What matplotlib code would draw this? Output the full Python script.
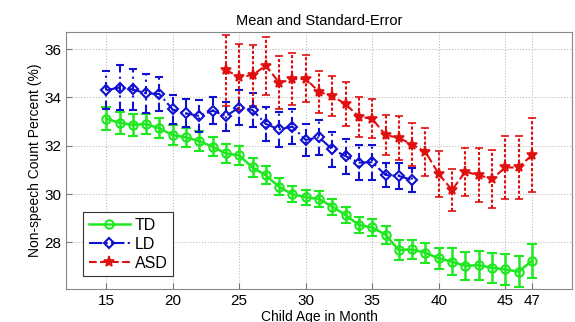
import matplotlib
matplotlib.use("Agg")
import matplotlib.pyplot as plt
from matplotlib.lines import Line2D

plt.rcParams['font.family'] = ['Liberation Sans', 'DejaVu Sans']

td_age = list(range(15, 48))
td_mean = [33.12, 32.95, 32.86, 32.9, 32.72, 32.44, 32.35, 32.19, 31.96, 31.68,
           31.6, 31.1, 30.78, 30.3, 29.99, 29.87, 29.8, 29.48, 29.13, 28.72,
           28.62, 28.32, 27.68, 27.71, 27.57, 27.34, 27.2, 27.03, 27.06, 26.95,
           26.88, 26.79, 27.23]
td_err = [0.47, 0.45, 0.45, 0.43, 0.42, 0.42, 0.4, 0.4, 0.4, 0.4,
          0.41, 0.38, 0.37, 0.35, 0.33, 0.31, 0.32, 0.33, 0.34, 0.35,
          0.36, 0.37, 0.4, 0.4, 0.42, 0.44, 0.55, 0.58, 0.6, 0.63,
          0.64, 0.65, 0.7]

ld_age = list(range(15, 39))
ld_mean = [34.3, 34.41, 34.33, 34.17, 34.14, 33.5, 33.34, 33.23, 33.45, 33.23,
           33.58, 33.48, 32.9, 32.68, 32.79, 32.24, 32.35, 31.85, 31.57, 31.3,
           31.32, 30.79, 30.75, 30.58]
ld_err = [0.8, 0.92, 0.85, 0.8, 0.7, 0.62, 0.58, 0.65, 0.55, 0.6,
          0.72, 0.7, 0.69, 0.72, 0.72, 0.66, 0.72, 0.72, 0.72, 0.72,
          0.72, 0.48, 0.53, 0.48]

asd_age = list(range(24, 48))
asd_mean = [35.13, 34.85, 34.92, 35.32, 34.61, 34.75, 34.77, 34.23, 34.06, 33.72,
            33.2, 33.12, 32.44, 32.33, 32.05, 31.75, 30.83, 30.17, 30.92, 30.79,
            30.62, 31.1, 31.1, 31.61]
asd_err = [1.47, 1.38, 1.26, 1.2, 1.1, 1.08, 0.98, 0.87, 0.83, 0.9,
           0.83, 0.82, 0.83, 0.9, 0.9, 1.0, 0.97, 0.85, 1.0, 1.1,
           1.2, 1.29, 1.29, 1.52]

xticks = [15, 20, 25, 30, 35, 40, 45, 47]
yticks = [28, 30, 32, 34, 36]
labels = ['TD', 'LD', 'ASD']

fig = plt.figure(figsize=(5.75, 3.22), dpi=100)
ax = fig.add_axes([0.1153, 0.1016, 0.8790, 0.8000])

green = '#1ee81e'
blue = '#1010d0'
red = '#e01010'

td_style = dict(color=green, linestyle='-', marker='o', markersize=6,
                markerfacecolor='none', markeredgewidth=1.5, linewidth=1.8)
ld_style = dict(color=blue, linestyle='-.', marker='D', markersize=5,
                markerfacecolor='none', markeredgewidth=1.5, linewidth=1.5)
asd_style = dict(color=red, linestyle='--', marker='*', markersize=8,
                 markeredgewidth=1.2, linewidth=1.5)

ax.errorbar(td_age, td_mean, yerr=td_err, capsize=3.5, elinewidth=1.8,
            capthick=1.8, **td_style)
e2 = ax.errorbar(ld_age, ld_mean, yerr=ld_err, capsize=3, elinewidth=1.5,
                 capthick=1.5, **ld_style)
e2[2][0].set_linestyle((0, (4, 2, 1, 2)))
e3 = ax.errorbar(asd_age, asd_mean, yerr=asd_err, capsize=3, elinewidth=1.5,
                 capthick=1.5, **asd_style)
e3[2][0].set_linestyle((0, (1.5, 1)))

ax.set_xlim(12, 50)
ax.set_ylim(26.06, 36.72)
ax.set_xticks(xticks)
ax.set_yticks(yticks)
ax.tick_params(direction='in', labelsize=11, length=4, color='#777777')
ax.grid(True, linestyle=':', color='#bbbbbb', linewidth=0.8)
for s in ax.spines.values():
    s.set_color('#888888')

ax.set_title('Mean and Standard-Error', fontsize=10.5, pad=5)
ax.set_xlabel('Child Age in Month', fontsize=10, labelpad=1)
ax.set_ylabel('Non-speech Count Percent (%)', fontsize=10, labelpad=2)

handles = [Line2D([], [], **td_style), Line2D([], [], **ld_style),
           Line2D([], [], **asd_style)]
leg = ax.legend(handles, labels, loc='lower left', bbox_to_anchor=(0.033, 0.05),
                fontsize=11.5, fancybox=False, framealpha=1, edgecolor='#333333',
                handlelength=2.6, borderpad=0.35, labelspacing=0.25,
                handletextpad=0.3, borderaxespad=0)
leg.get_frame().set_linewidth(0.8)

fig.savefig('out.png', dpi=100)
